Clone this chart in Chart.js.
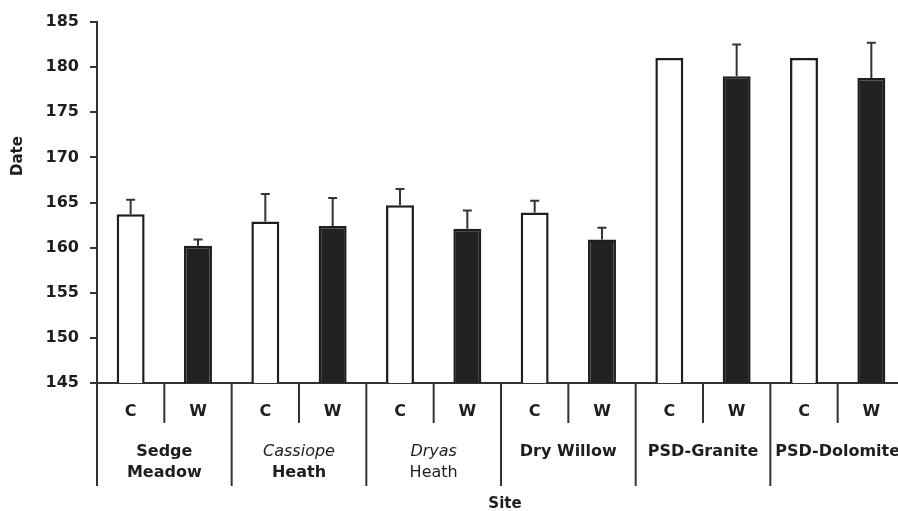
<!DOCTYPE html>
<html>
<head>
<meta charset="utf-8">
<script src="https://cdn.jsdelivr.net/npm/chart.js@4.4.0/dist/chart.umd.min.js"></script>
<style>
    html, body { margin: 0; padding: 0; background: #fff; overflow: hidden; }
    #wrap { position: absolute; left: 0; top: 0; width: 906px; height: 511px; }
</style>
</head>
<body>
<div id="wrap"><canvas id="chart"></canvas></div>
<script>
// Sites and treatments (C = control, W = warmed)
const sites = ['Sedge Meadow', 'Cassiope Heath', 'Dryas Heath', 'Dry Willow', 'PSD-Granite', 'PSD-Dolomite'];
const treatments = ['C', 'W'];

// mean date and upper error (SE) per site
const controlMeans = [163.7, 162.9, 164.7, 163.9, 181.0, 181.0];
const controlErrors = [1.6, 3.05, 1.8, 1.3, 0, 0];
const warmedMeans = [160.2, 162.4, 162.1, 160.9, 179.0, 178.8];
const warmedErrors = [0.7, 3.1, 2.0, 1.3, 3.5, 3.9];

const yTicks = [145, 150, 155, 160, 165, 170, 175, 180, 185];

const INK = '#1e1e1e';
const FONT = '"DejaVu Sans", sans-serif';

// site label lines with their styling
const siteLines = [
    [['Sedge', 'bold'], ['Meadow', 'bold']],
    [['Cassiope', 'italic'], ['Heath', 'bold']],
    [['Dryas', 'italic'], ['Heath', 'normal']],
    [['Dry Willow', 'bold']],
    [['PSD-Granite', 'bold']],
    [['PSD-Dolomite', 'bold']],
];

// interleave C and W bars
const labels = [];
const means = [];
const errors = [];
const fills = [];
sites.forEach((s, i) => {
    labels.push(treatments[0], treatments[1]);
    means.push(controlMeans[i], warmedMeans[i]);
    errors.push(controlErrors[i], warmedErrors[i]);
    fills.push('#ffffff', '#222222');
});

const errorBars = {
    id: 'errorBars',
    afterDatasetsDraw(chart) {
        const ctx = chart.ctx;
        const y = chart.scales.y;
        const meta = chart.getDatasetMeta(0);
        ctx.save();
        ctx.strokeStyle = '#333';
        ctx.lineWidth = 2;
        meta.data.forEach((bar, i) => {
            if (!errors[i]) return;
            const top = y.getPixelForValue(means[i] + errors[i]);
            ctx.beginPath();
            ctx.moveTo(bar.x, bar.y);
            ctx.lineTo(bar.x, top);
            ctx.moveTo(bar.x - 4.5, top);
            ctx.lineTo(bar.x + 4.5, top);
            ctx.stroke();
        });
        ctx.restore();
    }
};

const siteTiers = {
    id: 'siteTiers',
    afterDraw(chart) {
        const ctx = chart.ctx;
        const x = chart.scales.x;
        const area = chart.chartArea;
        const step = x.getPixelForValue(1) - x.getPixelForValue(0);
        ctx.save();
        ctx.strokeStyle = '#333';
        ctx.lineWidth = 2;
        for (let i = 0; i <= labels.length; i++) {
            const bx = x.getPixelForValue(0) - step / 2 + i * step;
            ctx.beginPath();
            ctx.moveTo(bx, area.bottom);
            ctx.lineTo(bx, i % 2 === 0 ? 486 : 423);
            ctx.stroke();
        }
        ctx.fillStyle = INK;
        ctx.textAlign = 'center';
        ctx.textBaseline = 'middle';
        siteLines.forEach((lines, i) => {
            const cx = (x.getPixelForValue(2 * i) + x.getPixelForValue(2 * i + 1)) / 2;
            lines.forEach(([text, style], j) => {
                if (style === 'bold') ctx.font = 'bold 16px ' + FONT;
                else if (style === 'italic') ctx.font = 'oblique 16px ' + FONT;
                else ctx.font = '16px ' + FONT;
                ctx.fillText(text, cx, 452 + j * 21);
            });
        });
        ctx.font = 'bold 15px ' + FONT;
        ctx.fillText('Site', 505, 504);
        ctx.translate(18.5, 156);
        ctx.rotate(-Math.PI / 2);
        ctx.font = 'bold 15px ' + FONT;
        ctx.fillText('Date', 0, 0);
        ctx.restore();
    }
};

new Chart(document.getElementById('chart'), {
    type: 'bar',
    data: {
        labels: labels,
        datasets: [{
            data: means,
            backgroundColor: fills,
            borderColor: INK,
            borderWidth: 2.5,
            borderSkipped: 'bottom',
            barPercentage: 0.415,
            categoryPercentage: 1,
        }]
    },
    options: {
        responsive: true,
        maintainAspectRatio: false,
        animation: false,
        layout: { padding: { top: 22, right: 1, left: 0, bottom: 0 } },
        plugins: {
            legend: { display: false },
            tooltip: { enabled: false }
        },
        scales: {
            x: {
                type: 'category',
                grid: { display: false, drawTicks: false },
                border: { display: true, color: '#333', width: 2 },
                ticks: {
                    color: INK,
                    padding: 19,
                    maxRotation: 0,
                    autoSkip: false,
                    font: { family: FONT, size: 16, weight: 'bold' }
                },
                afterFit: (scale) => { scale.height = 128; }
            },
            y: {
                min: 145,
                max: 185,
                afterBuildTicks: (scale) => { scale.ticks = yTicks.map(v => ({ value: v })); },
                grid: { drawOnChartArea: false, drawTicks: true, tickLength: 7, color: '#333', lineWidth: 2 },
                border: { display: true, color: '#333', width: 2 },
                ticks: {
                    color: INK,
                    padding: 11,
                    font: { family: FONT, size: 16, weight: 'bold' }
                },
                afterFit: (scale) => { scale.width = 97; }
            }
        }
    },
    plugins: [errorBars, siteTiers]
});
</script>
</body>
</html>
